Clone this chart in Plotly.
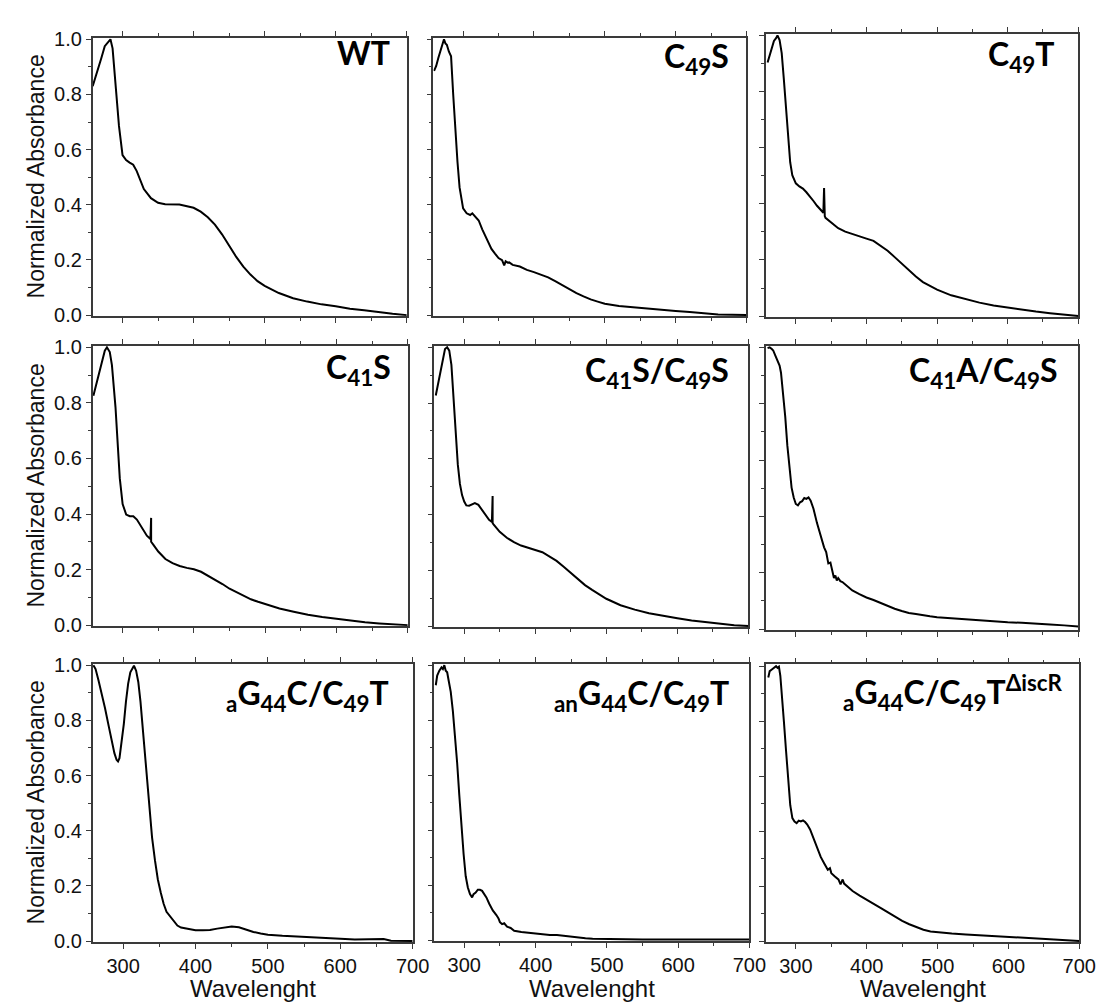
import plotly.graph_objects as go

# ---------------- data ----------------
wt_x = [258, 265, 270, 275, 280, 283, 286, 290, 295, 300, 305, 310, 315, 320, 325, 330, 340, 350, 360, 380,
        400, 410, 420, 430, 440, 450, 460, 470, 480, 490, 500, 520, 540, 560, 580, 600, 620, 640, 660, 680, 700]
wt_y = [0.83, 0.885, 0.93, 0.975, 0.993, 1.0, 0.967, 0.826, 0.686, 0.58, 0.562, 0.553, 0.545, 0.522, 0.49, 0.457,
        0.424, 0.407, 0.402, 0.401, 0.389, 0.375, 0.355, 0.328, 0.293, 0.252, 0.211, 0.176, 0.147, 0.123, 0.106,
        0.08, 0.061, 0.049, 0.039, 0.032, 0.023, 0.018, 0.011, 0.005, 0.0]

c49s_x = [259, 262, 265, 268, 271, 273, 275, 277, 280, 283, 286, 289, 292, 295, 298, 300, 305, 310, 313, 317,
          322, 327, 333, 340, 345, 350, 355, 358, 360, 363, 365, 370, 380, 390, 400, 410, 420, 430, 440, 450,
          460, 470, 480, 490, 500, 520, 540, 560, 580, 600, 620, 640, 660, 680, 700]
c49s_y = [0.885, 0.903, 0.932, 0.955, 0.979, 1.0, 0.985, 0.98, 0.955, 0.938, 0.80, 0.66, 0.557, 0.463, 0.416,
          0.387, 0.369, 0.363, 0.369, 0.358, 0.343, 0.311, 0.276, 0.24, 0.223, 0.207, 0.199, 0.18, 0.195, 0.19,
          0.191, 0.182, 0.176, 0.164, 0.156, 0.147, 0.137, 0.123, 0.108, 0.094, 0.08, 0.068, 0.057, 0.049, 0.041,
          0.033, 0.028, 0.023, 0.019, 0.015, 0.011, 0.006, 0.002, 0.001, 0.0]

c49t_x = [260, 263, 266, 269, 272, 274, 277, 280, 283, 286, 289, 292, 295, 298, 300, 305, 310, 315, 320, 325,
          330, 335, 339, 340, 340, 341, 342, 350, 360, 370, 380, 390, 400, 410, 420, 430, 440, 450, 460, 470,
          480, 490, 500, 520, 540, 560, 580, 600, 620, 640, 660, 680, 700]
c49t_y = [0.903, 0.931, 0.96, 0.98, 0.99, 1.0, 0.983, 0.937, 0.845, 0.742, 0.628, 0.548, 0.502, 0.485, 0.473,
          0.462, 0.454, 0.441, 0.427, 0.41, 0.393, 0.378, 0.368, 0.456, 0.36, 0.356, 0.35, 0.332, 0.313, 0.301,
          0.292, 0.284, 0.276, 0.268, 0.252, 0.233, 0.21, 0.187, 0.163, 0.141, 0.121, 0.107, 0.094, 0.074, 0.06,
          0.048, 0.038, 0.03, 0.023, 0.016, 0.01, 0.005, 0.0]

c41s_x = [259, 265, 270, 275, 278, 282, 285, 290, 293, 296, 300, 305, 310, 315, 320, 325, 330, 334, 339, 340,
          340, 341, 343, 350, 360, 370, 380, 390, 400, 410, 420, 430, 440, 450, 460, 470, 480, 490, 500, 520,
          540, 560, 580, 600, 620, 640, 660, 680, 700]
c41s_y = [0.826, 0.89, 0.942, 0.988, 1.0, 0.983, 0.936, 0.785, 0.657, 0.529, 0.436, 0.398, 0.392, 0.392, 0.38,
          0.36, 0.34, 0.322, 0.31, 0.386, 0.3, 0.297, 0.29, 0.265, 0.238, 0.223, 0.213, 0.206, 0.201, 0.192,
          0.178, 0.163, 0.148, 0.131, 0.119, 0.105, 0.093, 0.084, 0.076, 0.06, 0.048, 0.037, 0.029, 0.022, 0.016,
          0.01, 0.006, 0.002, 0.0]

c41s49s_x = [260, 264, 268, 271, 273, 276, 279, 282, 285, 288, 291, 294, 297, 300, 303, 307, 311, 315, 320, 325,
             330, 335, 339, 340, 340, 341, 345, 350, 360, 370, 380, 390, 400, 410, 420, 430, 440, 450, 460, 470,
             480, 490, 500, 520, 540, 560, 580, 600, 620, 640, 660, 680, 700]
c41s49s_y = [0.827, 0.879, 0.937, 0.971, 0.994, 1.0, 0.988, 0.937, 0.821, 0.683, 0.58, 0.51, 0.47, 0.447,
             0.433, 0.432, 0.438, 0.441, 0.435, 0.416, 0.397, 0.381, 0.374, 0.467, 0.37, 0.366, 0.355, 0.338,
             0.317, 0.301, 0.289, 0.28, 0.273, 0.265, 0.251, 0.234, 0.213, 0.19, 0.167, 0.147, 0.13, 0.113, 0.098,
             0.075, 0.059, 0.046, 0.036, 0.028, 0.02, 0.014, 0.008, 0.003, 0.0]

c41a49s_x = [260, 263, 266, 268, 271, 274, 277, 279, 281, 283, 285, 288, 291, 294, 297, 300, 303, 306, 309, 312,
             315, 318, 321, 325, 330, 335, 340, 343, 346, 349, 352, 354, 356, 358, 360, 363, 366, 370, 375, 380,
             390, 400, 410, 420, 430, 440, 450, 460, 470, 480, 490, 500, 520, 540, 560, 580, 600, 620, 640, 660,
             680, 700]
c41a49s_y = [0.997, 1.0, 0.994, 0.989, 0.971, 0.952, 0.935, 0.91, 0.86, 0.8, 0.754, 0.651, 0.57, 0.502, 0.467,
             0.444, 0.439, 0.45, 0.454, 0.465, 0.462, 0.467, 0.456, 0.427, 0.376, 0.33, 0.29, 0.273, 0.233, 0.236,
             0.204, 0.181, 0.19, 0.172, 0.181, 0.17, 0.167, 0.158, 0.147, 0.137, 0.124, 0.112, 0.103, 0.092, 0.081,
             0.072, 0.064, 0.057, 0.053, 0.048, 0.045, 0.042, 0.038, 0.034, 0.031, 0.027, 0.024, 0.022, 0.018,
             0.016, 0.013, 0.009]

ag44_x = [259, 262, 266, 270, 275, 280, 285, 288, 291, 293, 295, 298, 301, 304, 307, 310, 313, 315, 318, 321,
          324, 327, 330, 333, 336, 340, 344, 348, 352, 356, 360, 365, 370, 375, 380, 390, 400, 410, 420, 430,
          440, 450, 460, 470, 480, 490, 500, 520, 540, 560, 580, 600, 620, 640, 650, 660, 670, 680, 700]
ag44_y = [1.0, 0.986, 0.945, 0.904, 0.845, 0.781, 0.716, 0.681, 0.657, 0.651, 0.663, 0.716, 0.786, 0.869, 0.933,
          0.974, 0.992, 0.998, 0.98, 0.939, 0.869, 0.775, 0.669, 0.563, 0.469, 0.376, 0.293, 0.223, 0.176, 0.135,
          0.106, 0.088, 0.07, 0.056, 0.049, 0.043, 0.039, 0.039, 0.04, 0.045, 0.049, 0.053, 0.05, 0.041, 0.033,
          0.027, 0.023, 0.019, 0.016, 0.013, 0.009, 0.008, 0.006, 0.007, 0.009, 0.007, 0.001, 0.0, 0.0]

ang44_x = [260, 262, 265, 268, 270, 272, 274, 276, 278, 281, 284, 287, 290, 293, 296, 299, 302, 305, 308, 311,
           313, 316, 319, 322, 325, 328, 331, 335, 340, 345, 348, 350, 353, 356, 360, 365, 370, 380, 390, 400,
           410, 420, 430, 440, 450, 460, 470, 480, 500, 550, 600, 650, 700]
ang44_y = [0.927, 0.962, 0.98, 0.992, 0.986, 1.0, 0.98, 0.974, 0.945, 0.903, 0.833, 0.75, 0.644, 0.527, 0.409,
           0.314, 0.232, 0.191, 0.167, 0.155, 0.167, 0.173, 0.183, 0.183, 0.179, 0.167, 0.155, 0.132, 0.108,
           0.091, 0.079, 0.065, 0.058, 0.061, 0.049, 0.044, 0.034, 0.029, 0.026, 0.024, 0.02, 0.018, 0.018, 0.015,
           0.012, 0.008, 0.007, 0.005, 0.004, 0.002, 0.002, 0.002, 0.002]

iscr_x = [261, 263, 266, 269, 272, 274, 276, 278, 280, 283, 286, 289, 292, 295, 298, 301, 304, 307, 310, 313,
          316, 320, 325, 330, 335, 340, 345, 348, 350, 355, 360, 363, 366, 368, 372, 376, 380, 390, 400, 410,
          420, 430, 440, 450, 460, 470, 480, 490, 500, 520, 540, 560, 580, 600, 620, 640, 660, 680, 700]
iscr_y = [0.959, 0.982, 0.988, 0.994, 1.0, 0.994, 0.998, 0.965, 0.906, 0.8, 0.694, 0.588, 0.494, 0.447, 0.435,
          0.429, 0.438, 0.435, 0.439, 0.433, 0.424, 0.406, 0.371, 0.335, 0.306, 0.282, 0.259, 0.265, 0.247,
          0.235, 0.224, 0.206, 0.224, 0.209, 0.2, 0.191, 0.182, 0.165, 0.151, 0.135, 0.12, 0.104, 0.088, 0.073,
          0.061, 0.051, 0.041, 0.035, 0.032, 0.027, 0.024, 0.021, 0.018, 0.015, 0.012, 0.008, 0.006, 0.004, 0.0]

panel_labels = ["WT", "C<sub>49</sub>S", "C<sub>49</sub>T",
                "C<sub>41</sub>S", "C<sub>41</sub>S/C<sub>49</sub>S", "C<sub>41</sub>A/C<sub>49</sub>S",
                "<sub>a</sub>G<sub>44</sub>C/C<sub>49</sub>T", "<sub>an</sub>G<sub>44</sub>C/C<sub>49</sub>T",
                "<sub>a</sub>G<sub>44</sub>C/C<sub>49</sub>T<sup>ΔiscR</sup>"]
series_x = [wt_x, c49s_x, c49t_x, c41s_x, c41s49s_x, c41a49s_x, ag44_x, ang44_x, iscr_x]
series_y = [wt_y, c49s_y, c49t_y, c41s_y, c41s49s_y, c41a49s_y, ag44_y, ang44_y, iscr_y]
y_title = "Normalized Absorbance"
x_title = "Wavelenght"

# ---------------- layout geometry (pixels) ----------------
W, H = 1106, 1003
boxes = [  # (left, right, top, bottom) in px
    (86, 405, 21, 305), (432, 750, 21, 305), (770, 1087, 17, 306),
    (86, 406, 335, 621), (433, 752, 335, 622), (770, 1087, 335, 625),
    (86, 411, 659, 943), (433, 753, 659, 942), (770, 1088, 660, 943),
]
label_pos = [(390, 36), (734, 42), (1064, 40),
             (391, 359), (734, 362), (1068, 362),
             (389, 691), (734, 691), (1073, 689)]

fig = go.Figure()
layout = dict(width=W, height=H, margin=dict(l=0, r=0, t=0, b=0),
              paper_bgcolor="white", plot_bgcolor="white", showlegend=False,
              font=dict(family="Liberation Sans, Arial, sans-serif", color="black"))
annotations = []
axcol = "#3a3a3a"
for i in range(9):
    n = i + 1
    sfx = "" if n == 1 else str(n)
    l, r, t, b = boxes[i]
    row, col = divmod(i, 3)
    fig.add_trace(go.Scatter(x=series_x[i], y=series_y[i], mode="lines",
                             line=dict(color="black", width=2),
                             xaxis="x" + sfx, yaxis="y" + sfx, hoverinfo="skip"))
    layout["xaxis" + sfx] = dict(
        domain=[l / W, r / W], anchor="y" + sfx, range=[258, 700],
        showgrid=False, zeroline=False, showline=True, linecolor=axcol, linewidth=1.5,
        mirror="ticks", ticks="outside", tick0=300, dtick=100, ticklen=5, tickwidth=1.2,
        tickcolor=axcol, showticklabels=(row == 2),
        tickfont=dict(size=20, color="#111111"),
        minor=dict(dtick=50, tick0=300, ticks="outside", ticklen=3, tickcolor=axcol, tickwidth=1),
    )
    layout["yaxis" + sfx] = dict(
        domain=[1 - b / H, 1 - t / H], anchor="x" + sfx, range=[-0.004, 1.006],
        showgrid=False, zeroline=False, showline=True, linecolor=axcol, linewidth=1.5,
        mirror=True, ticks="outside", tick0=0, dtick=0.2, ticklen=5, tickwidth=1.2,
        tickcolor=axcol, showticklabels=(col == 0), tickformat=".1f",
        tickfont=dict(size=20, color="#111111"),
        minor=dict(dtick=0.1, ticks="outside", ticklen=3, tickcolor=axcol, tickwidth=1),
    )
    lx, ly = label_pos[i]
    annotations.append(dict(text="<b>" + panel_labels[i] + "</b>", xref="paper", yref="paper",
                            x=lx / W, y=1 - ly / H, xanchor="right", yanchor="middle",
                            showarrow=False, font=dict(family="Lato, sans-serif", size=32, color="black")))
    if col == 0:
        annotations.append(dict(text=y_title, xref="paper", yref="paper", textangle=-90,
                                x=28 / W, y=1 - ((t + b) / 2) / H, xanchor="center", yanchor="middle",
                                showarrow=False, font=dict(size=23, color="#111111")))
    if row == 2:
        annotations.append(dict(text=x_title, xref="paper", yref="paper",
                                x=((l + r) / 2) / W, y=1 - 990 / H, xanchor="center", yanchor="middle",
                                showarrow=False, font=dict(size=24, color="#111111")))

layout["annotations"] = annotations
fig.update_layout(**layout)
fig.write_html("out.html")
